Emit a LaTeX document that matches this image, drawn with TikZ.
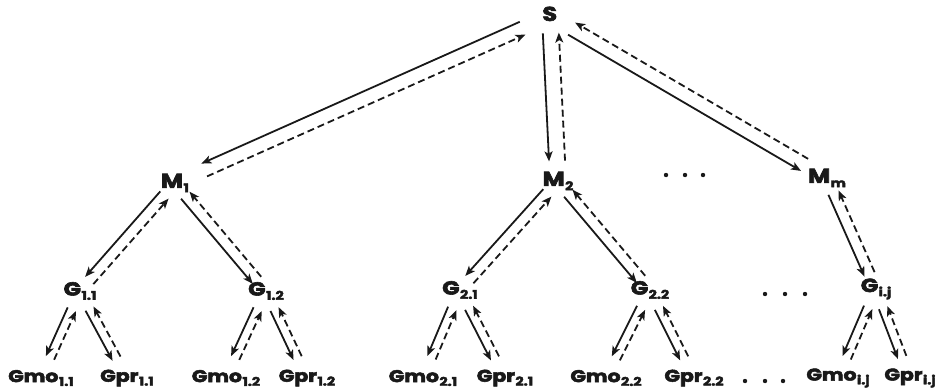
\documentclass[tikz,border=0pt]{standalone}
\usepackage{fontspec}
\setmainfont{Poppins}[BoldFeatures={FakeBold=3}]
\usetikzlibrary{arrows.meta,calc}

% label: #1 main size, #2 subscript size, #3 letters, #4 subscript
\newcommand\lb[4]{\scalebox{1.2}[1]{\bfseries\fontsize{#1}{#1}\selectfont #3\kern0.4pt\raisebox{-0.22em}{\fontsize{#2}{#2}\selectfont #4}}}

% a solid arrow parent->child on the right of the link, a dashed arrow child->parent on its left
% #1 parent, #2 child, #3 half gap, #4 shortening at parent, #5 shortening at child
\newcommand\link[5]{%
  \draw[down, shorten <=#4, shorten >=#5]
    ($(#1)!#3!-90:(#2)$) -- ($(#2)!#3!90:(#1)$);
  \draw[up, shorten <=#5, shorten >=#4]
    ($(#2)!#3!-90:(#1)$) -- ($(#1)!#3!90:(#2)$);
}

\begin{document}
\begin{tikzpicture}[x=1pt,y=-1pt,
  every node/.style={inner sep=0pt, text=black!90},
  tip/.style={-{Stealth[length=10pt,width=8pt,inset=2.5pt]}},
  down/.style={tip, line width=1.8pt, draw=black!90},
  up/.style={tip, line width=1.8pt, draw=black!90, dash pattern=on 7pt off 4pt},
  dot/.style={fill=black!90}]
\useasboundingbox[fill=white] (0,0) rectangle (941,391);

% root and middle level
\node (S)  at (550,16)  {\lb{20}{12}{S}{}};
\node (M1) at (175,183) {\lb{20}{12}{M}{1}};
\node (M2) at (558,181) {\lb{20}{12}{M}{2}};
\node (Mm) at (827,178) {\lb{20}{12}{M}{m}};
\foreach \x in {666,685,703} \fill[dot] (\x,175) circle (2.2);

% group level
\node (G11) at (80,291)  {\lb{19}{12}{G}{1.1}};
\node (G12) at (266,291) {\lb{19}{12}{G}{1.2}};
\node (G21) at (460,290) {\lb{19}{12}{G}{2.1}};
\node (G22) at (650,290) {\lb{19}{12}{G}{2.2}};
\node (Gij) at (876,289) {\lb{19}{12}{G}{i.j}};
\foreach \x in {765,785,805} \fill[dot] (\x,294) circle (2.2);

% leaf level
\node (Gmo11) at (41,378)  {\lb{17}{12}{Gmo}{1.1}};
\node (Gpr11) at (127,378) {\lb{17}{12}{Gpr}{1.1}};
\node (Gmo12) at (226,378) {\lb{17}{12}{Gmo}{1.2}};
\node (Gpr12) at (307,378) {\lb{17}{12}{Gpr}{1.2}};
\node (Gmo21) at (423,378) {\lb{17}{12}{Gmo}{2.1}};
\node (Gpr21) at (505,378) {\lb{17}{12}{Gpr}{2.1}};
\node (Gmo22) at (606,378) {\lb{17}{12}{Gmo}{2.2}};
\node (Gpr22) at (694,378) {\lb{17}{12}{Gpr}{2.2}};
\node (Gmoij) at (838,378) {\lb{17}{12}{Gmo}{i.j}};
\node (Gprij) at (910,378) {\lb{17}{12}{Gpr}{i.j}};
\foreach \x in {745,765,783} \fill[dot] (\x,381) circle (2.2);

% links
\link{S}{M1}{7pt}{30pt}{32pt}
\link{S}{M2}{8pt}{17pt}{20pt}
\link{S}{Mm}{7pt}{25pt}{26pt}

\link{M1}{G11}{5.5pt}{16pt}{14pt}
\link{M1}{G12}{5.5pt}{16pt}{14pt}
\link{M2}{G21}{5.5pt}{16pt}{14pt}
\link{M2}{G22}{5.5pt}{16pt}{14pt}
\link{Mm}{Gij}{5.5pt}{16pt}{16pt}

\link{G11}{Gmo11}{4.5pt}{20pt}{22pt}
\link{G11}{Gpr11}{4.5pt}{20pt}{22pt}
\link{G12}{Gmo12}{4.5pt}{20pt}{22pt}
\link{G12}{Gpr12}{4.5pt}{20pt}{22pt}
\link{G21}{Gmo21}{4.5pt}{20pt}{22pt}
\link{G21}{Gpr21}{4.5pt}{20pt}{22pt}
\link{G22}{Gmo22}{4.5pt}{20pt}{22pt}
\link{G22}{Gpr22}{4.5pt}{20pt}{22pt}
\link{Gij}{Gmoij}{4.5pt}{20pt}{22pt}
\link{Gij}{Gprij}{4.5pt}{20pt}{22pt}
\end{tikzpicture}
\end{document}
